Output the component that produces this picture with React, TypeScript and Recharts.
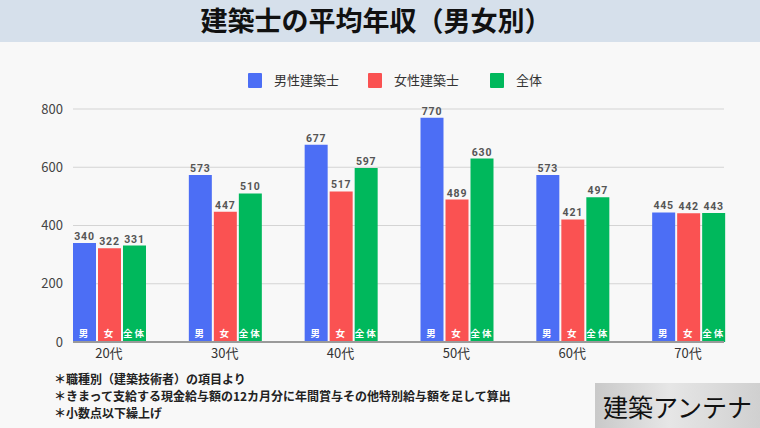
import React from 'react';
import { BarChart, Bar, XAxis, YAxis, CartesianGrid, LabelList } from 'recharts';

const categories = ['20代', '30代', '40代', '50代', '60代', '70代'];
const maleValues = [340, 573, 677, 770, 573, 445];
const femaleValues = [322, 447, 517, 489, 421, 442];
const allValues = [331, 510, 597, 630, 497, 443];
const yTicks = [0, 200, 400, 600, 800];
const seriesNames = ['男性建築士', '女性建築士', '全体'];
const innerLabels = ['男', '女', '全体'];
const colors = ['#4c6ef5', '#fa5252', '#00b85c'];
const title = '建築士の平均年収（男女別）';
const notes = [
  '＊職種別（建築技術者）の項目より',
  '＊きまって支給する現金給与額の12カ月分に年間賞与その他特別給与額を足して算出',
  '＊小数点以下繰上げ',
];
const logoText = '建築アンテナ';

const data = categories.map((c, i) => ({
  name: c,
  male: maleValues[i],
  female: femaleValues[i],
  all: allValues[i],
}));

const FONT = '"Noto Sans CJK JP", "Noto Sans", sans-serif';

export default function App() {
  const keys = ['male', 'female', 'all'];
  return (
    <div
      style={{
        position: 'absolute',
        left: 0,
        top: 0,
        width: 760,
        height: 428,
        background: '#f8f8f8',
        fontFamily: FONT,
        overflow: 'hidden',
      }}
    >
      <div
        style={{
          position: 'absolute',
          left: 0,
          top: 0,
          width: 760,
          height: 42,
          background: '#d6e0eb',
        }}
      />
      <div
        style={{
          position: 'absolute',
          left: 0,
          top: 0,
          width: 752,
          height: 42,
          lineHeight: '40px',
          textAlign: 'center',
          fontSize: 27,
          fontWeight: 700,
          color: '#111',
        }}
      >
        {title}
      </div>

      {/* legend */}
      <div style={{ position: 'absolute', left: 0, top: 72, width: 760, height: 18 }}>
        {seriesNames.map((n, i) => {
          const lefts = [248, 368, 490];
          return (
            <div key={n} style={{ position: 'absolute', left: lefts[i], top: 0, display: 'flex', alignItems: 'center' }}>
              <div style={{ width: 14, height: 15, background: colors[i], borderRadius: 1 }} />
              <div style={{ marginLeft: 12, fontSize: 13, color: '#333', lineHeight: '16px' }}>{n}</div>
            </div>
          );
        })}
      </div>

      <div style={{ position: 'absolute', left: 0, top: 0 }}>
        <BarChart
          width={760}
          height={428}
          data={data}
          margin={{ top: 109, right: 36, bottom: 0, left: 13 }}
          barCategoryGap={22}
          barGap={2}
        >
          <CartesianGrid vertical={false} stroke="#d4d4d4" strokeWidth={1} />
          <XAxis
            dataKey="name"
            height={86}
            padding={{ left: -22, right: -22 }}
            tickLine={false}
            tickSize={0}
            tickMargin={7}
            axisLine={{ stroke: '#9a9a9a', strokeWidth: 2 }}
            tick={{ fontSize: 13, fill: '#333', fontFamily: FONT }}
          />
          <YAxis
            width={60}
            domain={[0, 800]}
            ticks={yTicks}
            tickLine={false}
            tickSize={0}
            tickMargin={10}
            axisLine={false}
            tick={{ fontSize: 13, fill: '#444', fontFamily: FONT }}
          />
          {keys.map((k, i) => (
            <Bar key={k} dataKey={k} fill={colors[i]} isAnimationActive={false}>
              <LabelList
                dataKey={k}
                position="top"
                offset={3}
                style={{ fontSize: 10.5, fontWeight: 700, fill: '#555', letterSpacing: 0.8, fontFamily: 'Roboto, sans-serif' }}
              />
              <LabelList
                dataKey={k}
                position="insideBottom"
                offset={5}
                formatter={() => innerLabels[i]}
                style={{ fontSize: 9.5, fontWeight: 700, fill: '#ffffff', letterSpacing: 2, fontFamily: FONT }}
              />
            </Bar>
          ))}
        </BarChart>
      </div>

      {/* footnotes */}
      <div
        style={{
          position: 'absolute',
          left: 54,
          top: 370,
          fontSize: 12,
          fontWeight: 700,
          color: '#222',
          lineHeight: '17px',
        }}
      >
        {notes.map((n) => (
          <div key={n}>{n}</div>
        ))}
      </div>

      {/* logo */}
      <div
        style={{
          position: 'absolute',
          left: 595,
          top: 383,
          width: 165,
          height: 45,
          background: 'linear-gradient(90deg, #c9c9c9 0%, #e6e6e6 45%, #d0d0d0 100%)',
        }}
      />
      <div
        style={{
          position: 'absolute',
          left: 603,
          top: 388,
          fontSize: 25,
          color: '#111',
          lineHeight: '36px',
          letterSpacing: 0,
        }}
      >
        {logoText}
      </div>
    </div>
  );
}
